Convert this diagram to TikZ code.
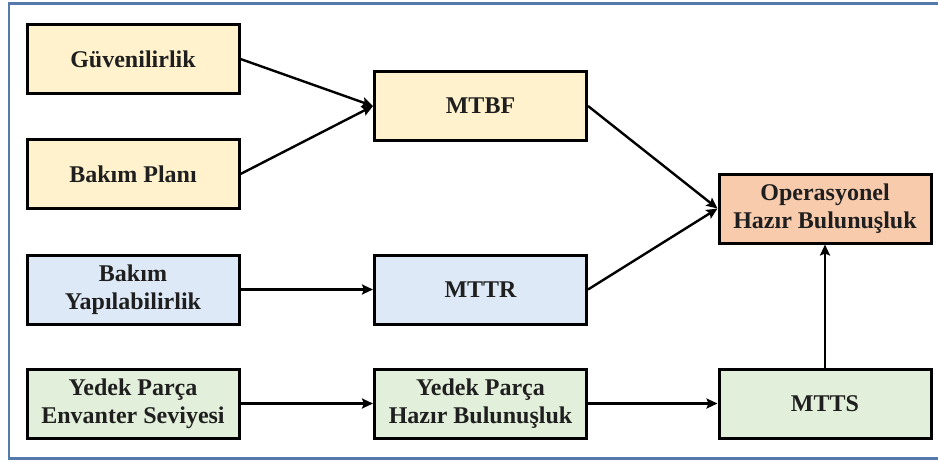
\documentclass[tikz,border=0pt]{standalone}
\usepackage{fontspec}
\setmainfont{Liberation Serif}
\usetikzlibrary{arrows.meta}
\definecolor{frameblue}{RGB}{84,122,172}
\definecolor{fillyellow}{RGB}{255,242,204}
\definecolor{fillblue}{RGB}{221,233,246}
\definecolor{fillgreen}{RGB}{226,239,218}
\definecolor{fillorange}{RGB}{248,203,173}
\begin{document}
\begin{tikzpicture}[x=0.5pt,y=-0.5pt,
  block/.style={draw=black, line width=1.5pt, minimum width=106pt, minimum height=34.5pt,
    inner sep=0pt, align=center, font=\fontsize{12}{14}\selectfont\bfseries, text=black!88},
  yblock/.style={block, fill=fillyellow},
  bblock/.style={block, fill=fillblue},
  gblock/.style={block, fill=fillgreen},
  oblock/.style={block, fill=fillorange},
  link/.style={line width=1.2pt, -{Stealth[length=5.5pt,width=5pt,inset=1pt]}}]
  \useasboundingbox (0,0) rectangle (938,461);
  % outer frame, its right side runs past the page edge
  \begin{scope}
    \clip (0,0) rectangle (938,461);
    \draw[frameblue, line width=1.4pt] (9,3.5) rectangle (960,458.5);
  \end{scope}
  % left column
  \node[yblock] (gv) at (133,59) {Güvenilirlik};
  \node[yblock] (bp) at (133,174) {Bakım Planı};
  \node[bblock] (by) at (133,289.5) {Bakım\\Yapılabilirlik};
  \node[gblock] (ys) at (133,403.5) {Yedek Parça\\Envanter Seviyesi};
  % middle column
  \node[yblock] (mtbf) at (480.5,106) {MTBF};
  \node[bblock] (mttr) at (480.5,289.5) {MTTR};
  \node[gblock] (yh) at (480.5,403.5) {Yedek Parça\\Hazır Bulunuşluk};
  % right column
  \node[oblock] (op) at (825,208.5) {Operasyonel\\Hazır Bulunuşluk};
  \node[gblock] (mtts) at (825,403.5) {MTTS};
  % connectors
  \draw[link] (gv.east) -- (mtbf.west);
  \draw[link] (bp.east) -- (mtbf.west);
  \draw[link] (by.east) -- (mttr.west);
  \draw[link] (ys.east) -- (yh.west);
  \draw[link] (yh.east) -- (mtts.west);
  \draw[link] (mtbf.east) -- (op.west);
  \draw[link] (mttr.east) -- (op.west);
  \draw[link] (mtts.north) -- (op.south);
\end{tikzpicture}
\end{document}
